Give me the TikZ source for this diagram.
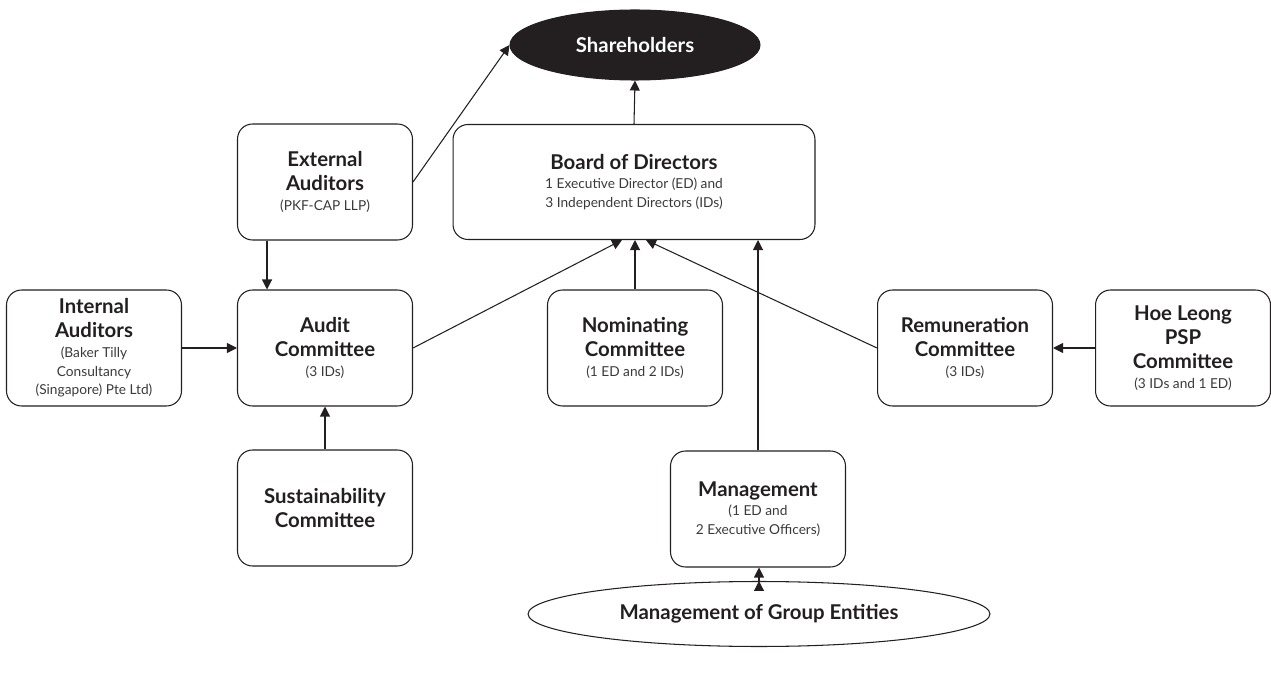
\documentclass[tikz,border=0pt]{standalone}
\usepackage{fontspec}
\setmainfont{Lato}
\usetikzlibrary{positioning, shapes.geometric, arrows.meta}

\definecolor{inkdark}{HTML}{231F20}
\definecolor{subgray}{HTML}{3A3A3A}
\newcommand{\subtxt}[1]{{\fontsize{7.8}{10}\selectfont\mdseries\color{subgray}#1}}

\begin{document}
\begin{tikzpicture}[x=0.02cm, y=-0.02cm,
    box/.style={draw=inkdark, line width=0.6pt, rounded corners=0.3cm, align=center,
        minimum width=3.5cm, minimum height=2.32cm, text=inkdark,
        font=\fontsize{11.6}{13.6}\selectfont\bfseries},
    oval/.style={draw=inkdark, line width=0.6pt, ellipse, text=inkdark,
        font=\fontsize{11.6}{13.6}\selectfont\bfseries},
    >={Triangle[length=2mm, width=2mm]}]
    \useasboundingbox (0,0) rectangle (1271,675);

    \node[oval, fill=inkdark, text=white, minimum width=5cm, minimum height=1.4cm]
        at (635,45) (share) {Shareholders};
    \node[box, minimum width=7.24cm, minimum height=2.3cm] at (634,182) (board)
        {Board of Directors\\[-2.5pt] \subtxt{1 Executive Director (ED) and}\\[-3pt] \subtxt{3 Independent Directors (IDs)}};
    \node[box] at (325,182)  (ext)   {External\\Auditors\\[-2.5pt] \subtxt{(PKF-CAP LLP)}};
    \node[box] at (94,348)   (int)   {Internal\\Auditors\\[-2.5pt] \subtxt{(Baker Tilly}\\[-3pt] \subtxt{Consultancy}\\[-3pt] \subtxt{(Singapore) Pte Ltd)}};
    \node[box] at (325,348)  (audit) {Audit\\Committee\\[-2.5pt] \subtxt{(3 IDs)}};
    \node[box] at (635,348)  (nom)   {Nominating\\Committee\\[-2.5pt] \subtxt{(1 ED and 2 IDs)}};
    \node[box] at (965,348)  (rem)   {Remuneration\\Committee\\[-2.5pt] \subtxt{(3 IDs)}};
    \node[box] at (1183,348) (psp)   {Hoe Leong\\PSP\\Committee\\[-2.5pt] \subtxt{(3 IDs and 1 ED)}};
    \node[box] at (325,508)  (sus)   {Sustainability\\Committee};
    \node[box] at (758,509)  (mgmt)  {Management\\[-2.5pt] \subtxt{(1 ED and}\\[-3pt] \subtxt{2 Executive Officers)}};
    \node[oval, minimum width=9.24cm, minimum height=1.3cm] at (759,614) (group)
        {Management of Group Entities};

    \draw[->, inkdark, line width=0.6pt]
        (ext.east) edge (share.west)
        (board.north) edge (share.south)
        ([xshift=-1.16cm]ext.south) edge ([xshift=-1.16cm]audit.north)
        (int.east) edge (audit.west)
        (audit.east) edge ([xshift=-0.24cm]board.south)
        (nom.north) edge (nom.north |- board.south)
        (rem.west) edge ([xshift=0.24cm]board.south)
        (psp.west) edge (rem.east)
        (sus.north) edge (audit.south)
        (mgmt.north) edge (mgmt.north |- board.south)
        (group.north) edge (group.north |- mgmt.south);
\end{tikzpicture}
\end{document}
